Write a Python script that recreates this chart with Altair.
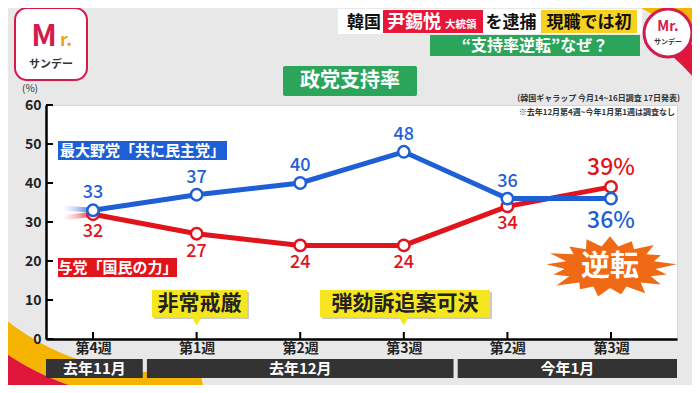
import json
import math
import altair as alt
import pandas as pd

# ---------------- data ----------------
weeks = ["第4週", "第1週", "第2週", "第3週", "第2週", "第3週"]
week_idx = [0, 1, 2, 3, 4, 5]
blue_vals = [33, 37, 40, 48, 36, 36]   # 最大野党「共に民主党」
red_vals = [32, 27, 24, 24, 34, 39]    # 与党「国民の力」
lead_x = [-0.3, 0]
blue_lead = [33.6, 33]
red_lead = [31.1, 32]
months = ["去年11月", "去年12月", "今年1月"]
month_start = [-0.454, 0.52, 3.52]
month_end = [0.48, 3.48, 5.637]
y_ticks = [0, 10, 20, 30, 40, 50, 60]

BLUE = "#1f5fd6"
RED = "#e1141c"
FONT = "Noto Sans CJK JP"
X_DOMAIN = [-0.454, 5.637]

xs = alt.Scale(domain=X_DOMAIN, nice=False, zero=False)
ys = alt.Scale(domain=[0, 60], nice=False, zero=True)

x_axis = alt.Axis(values=week_idx, labelExpr=json.dumps(weeks, ensure_ascii=False) + "[datum.value]",
                  ticks=False, grid=False, domainColor="black", domainWidth=2.5,
                  labelFont=FONT, labelFontSize=14, labelFontWeight="bold", labelColor="#222",
                  labelPadding=2, title=None, labelFlush=False, labelOverlap=False, zindex=1)
y_axis = alt.Axis(values=y_ticks, ticks=False, grid=False, domainColor="black", domainWidth=2.5,
                  labelFont=FONT, labelFontSize=14, labelFontWeight="bold", labelColor="#222",
                  labelPadding=5, title=None, labelOverlap=False, labelFlush=False, zindex=1)

X = alt.X("i:Q", scale=xs, axis=x_axis)
Y = alt.Y("v:Q", scale=ys, axis=y_axis)

one = pd.DataFrame({"k": [0]})


def box(x0, x1, y0, y1, color, **kw):
    return alt.Chart(one).mark_rect(color=color, **kw).encode(
        x=alt.value(x0), x2=alt.value(x1), y=alt.value(y0), y2=alt.value(y1))


def txt(x, y, text, size, color, weight="bold", align="center", **kw):
    return alt.Chart(one).mark_text(text=text, fontSize=size, color=color, font=FONT,
                                    fontWeight=weight, align=align, baseline="middle", **kw).encode(
        x=alt.value(x), y=alt.value(y))


def arc(cx, cy, r_in, r_out, t0, t1, color):
    return alt.Chart(one).mark_arc(theta=t0, theta2=t1, radius=r_out, radius2=r_in, color=color).encode(
        x=alt.value(cx), y=alt.value(cy))


def star_path(n=17, inner=0.68, yscale=0.46):
    outs = [1.0, 0.9, 0.97, 0.85, 1.0, 0.88, 0.95]
    pts = []
    for k in range(2 * n):
        a = -math.pi / 2 + k * math.pi / n
        r = outs[(k // 2) % len(outs)] if k % 2 == 0 else inner
        pts.append((r * math.cos(a), r * math.sin(a) * yscale))
    return "M" + "L".join(f"{px:.3f},{py:.3f}" for px, py in pts) + "Z"


layers = []

# corner swooshes (decoration)
layers.append(arc(107, 34, 233, 260, math.pi - 0.2, 1.5 * math.pi, "#f5b400"))
layers.append(arc(107, 34, 260, 650, math.pi - 0.2, 1.5 * math.pi, "#e0173a"))
layers.append(arc(474, 125, 253, 340, 0.3, 1.45, "#f5b400"))
layers.append(arc(474, 125, 231, 253, 0.6, 1.3, "#e0173a"))

# header
layers.append(box(292, 596, -96, -71, "white"))
layers.append(box(337, 437, -95, -72, "#e8173a"))
layers.append(box(495, 591, -95, -72, "#f7d21e"))
layers.append(txt(318, -82, "韓国", 17, "#111"))
layers.append(txt(341, -82, "尹錫悦", 18, "white", align="left"))
layers.append(txt(399, -80, "大統領", 10.5, "white", align="left"))
layers.append(txt(465, -82, "を逮捕", 17, "#111"))
layers.append(txt(543, -82, "現職では初", 17, "#111"))
layers.append(box(384, 594, -70, -49, "#2aa55a"))
layers.append(txt(489, -59.5, "“支持率逆転”なぜ？", 16, "white"))

# title
layers.append(box(237, 371, -39, -9, "#2aa55a", cornerRadius=2))
layers.append(txt(304, -24, "政党支持率", 20, "white"))

# logos
layers.append(box(-31, 41, -97, -25, "white", cornerRadius=12, stroke="#d51a4c", strokeWidth=2))
layers.append(txt(-2, -68, "M", 30, "#d51a4c", weight="bold"))
layers.append(txt(20, -64, "r.", 18, "#f0a020", weight="bold"))
layers.append(txt(5, -40, "サンデー", 11, "#333"))
layers.append(alt.Chart(one).mark_point(shape="circle", filled=True, fill="white", stroke="#d51a4c",
                                        strokeWidth=3, size=2290, opacity=1).encode(
    x=alt.value(622), y=alt.value(-72)))
layers.append(txt(622, -78, "Mr.", 14, "#d51a4c"))
layers.append(txt(622, -63, "サンデー", 7, "#333"))

# notes
layers.append(txt(-16, -16, "(%)", 10, "#333", weight="normal"))
layers.append(txt(634, -6, "(韓国ギャラップ 今月14~16日調査 17日発表)", 8, "#333", align="right"))
layers.append(txt(629, 8, "※去年12月第4週~今年1月第1週は調査なし", 8, "#333", align="right"))

# inward ticks
layers.append(alt.Chart(pd.DataFrame({"v": y_ticks})).mark_rule(color="black", strokeWidth=2).encode(
    y=Y, x=alt.value(0), x2=alt.value(7)))
layers.append(alt.Chart(pd.DataFrame({"i": week_idx})).mark_rule(color="black", strokeWidth=2).encode(
    x=X, y=alt.value(234), y2=alt.value(227)))

# month bands
mdf = pd.DataFrame({"m": months, "s": month_start, "e": month_end})
mdf["c"] = (mdf["s"] + mdf["e"]) / 2
layers.append(alt.Chart(mdf).mark_rect(color="#333333").encode(
    x=alt.X("s:Q", scale=xs, axis=x_axis), x2="e:Q", y=alt.value(254), y2=alt.value(273)))
layers.append(alt.Chart(mdf).mark_text(color="white", font=FONT, fontSize=15, fontWeight="bold",
                                       baseline="middle").encode(
    x=alt.X("c:Q", scale=xs, axis=x_axis), y=alt.value(263.5), text="m:N"))

# legend-like labels
layers.append(box(12, 181, 36, 55, BLUE))
layers.append(txt(96.5, 45.5, "最大野党「共に民主党」", 15, "white"))
layers.append(box(12, 131, 153, 172, RED))
layers.append(txt(71.5, 162.5, "与党「国民の力」", 15, "white"))

# event annotations
for x0, x1, label, anchor in [(106, 201, "非常戒厳", 1), (274, 444, "弾劾訴追案可決", 3)]:
    layers.append(box(x0 + 2, x1 + 2, 187, 214, "#9a9a9a", opacity=0.5))
    layers.append(box(x0, x1, 185, 212, "#f6e61f"))
    layers.append(alt.Chart(pd.DataFrame({"i": [anchor]})).mark_point(
        shape="triangle-down", filled=True, color="#f6e61f", size=110, opacity=1).encode(
        x=X, y=alt.value(216)))
    layers.append(txt((x0 + x1) / 2, 198.5, label, 21, "#222"))


# series
def series(vals, lead, color, dy_norm, dy_last, last_label):
    df = pd.DataFrame({"i": week_idx, "v": vals})
    df["lab"] = [str(v) for v in vals[:-1]] + [last_label]
    ldf = pd.DataFrame({"i": lead_x, "v": lead})
    grad = alt.Gradient(gradient="linear",
                        stops=[alt.GradientStop(color="rgba(255,255,255,0.3)", offset=0),
                               alt.GradientStop(color=color, offset=1)],
                        x1=0, x2=1, y1=0, y2=0)
    base = alt.Chart(df).encode(x=X, y=Y)
    return [
        alt.Chart(ldf).mark_line(color=grad, strokeWidth=5).encode(x=X, y=Y),
        base.mark_line(color=color, strokeWidth=5),
        base.mark_point(shape="circle", filled=True, fill="white", stroke=color, strokeWidth=2.5,
                        size=130, opacity=1),
        base.transform_filter("datum.i < 5").mark_text(dy=dy_norm, fontSize=18, color=color, font=FONT,
                                                       fontWeight=500).encode(text="lab:N"),
        base.transform_filter("datum.i == 5").mark_text(dy=dy_last, fontSize=23, color=color, font=FONT,
                                                        fontWeight=500).encode(text="lab:N"),
    ]


layers += series(red_vals, red_lead, RED, 18, -19, f"{red_vals[-1]}%")
layers += series(blue_vals, blue_lead, BLUE, -17, 22, f"{blue_vals[-1]}%")

# 逆転 burst
layers.append(alt.Chart(one).mark_point(shape=star_path(), filled=True, color="#f06914", size=17956,
                                        opacity=1).encode(x=alt.value(564), y=alt.value(162)))
layers.append(txt(564, 162, "逆転", 29, "white"))

chart = alt.layer(*layers).properties(
    width=631, height=234,
    autosize=alt.AutoSizeParams(type="none"),
    padding={"left": 38, "top": 97, "right": 15, "bottom": 46},
    background="#e8e8e8",
).configure_view(fill="white", stroke="#d6d6d6", strokeWidth=1)

chart.save("out.html", embed_options={"renderer": "svg", "actions": False})
